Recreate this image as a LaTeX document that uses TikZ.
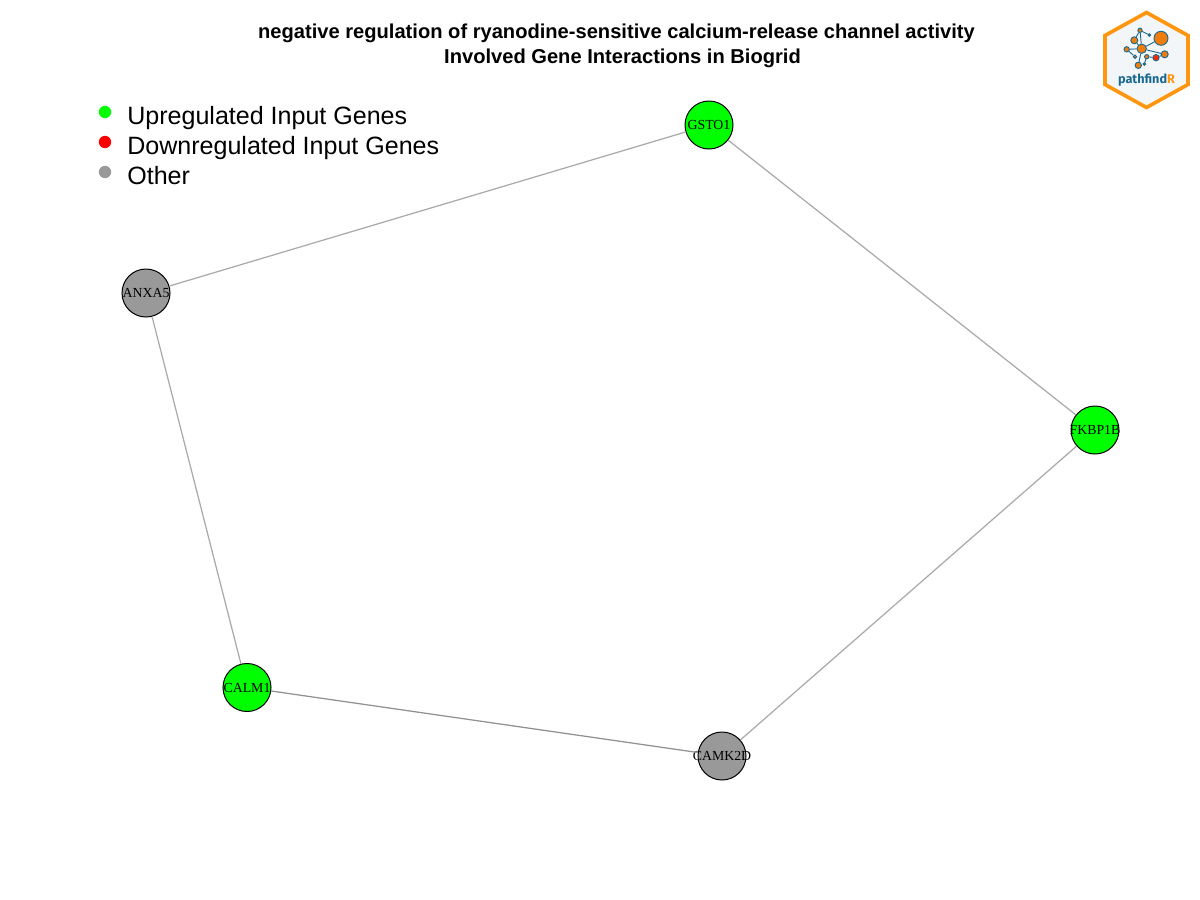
\documentclass[tikz,border=0pt]{standalone}
\usepackage{fontspec}
\setmainfont{Liberation Sans}
\newfontfamily\genefont{Liberation Serif}
\newfontfamily\logofont{Fira Sans}
\usetikzlibrary{positioning}
\definecolor{upgreen}{RGB}{0,255,0}
\definecolor{downred}{RGB}{255,0,0}
\definecolor{othergray}{RGB}{153,153,153}
\definecolor{edgegray}{RGB}{170,170,170}
\definecolor{logoorange}{RGB}{255,150,15}
\definecolor{logodot}{RGB}{240,125,10}
\definecolor{logoblue}{RGB}{25,105,145}
\definecolor{logofill}{RGB}{243,246,249}
\newcommand{\gene}[1]{\makebox[0pt]{#1}}

\begin{document}
\begin{tikzpicture}[
        x=0.6pt,y=-0.6pt,
        vtx/.style={circle,inner sep=0pt,minimum size=28.8pt,draw=black,line width=0.6pt,font=\genefont\fontsize{8.3}{10}\selectfont},
        edge/.style={line width=0.75pt,edgegray},
        keydot/.style={circle,inner sep=0pt,minimum size=7.4pt},
        keytxt/.style={anchor=base west,inner sep=0pt,font=\fontsize{15.03}{18}\selectfont},
        headtxt/.style={inner sep=0pt,font=\bfseries\fontsize{12.07}{14}\selectfont},
        ldot/.style={circle,inner sep=0pt,draw=logoblue,line width=0.55pt,fill=logodot},
        ledge/.style={line width=0.55pt,logoblue}
        ]
        \useasboundingbox (0,0) rectangle (1200,900);

        \node[headtxt] (title1) at (616.5,33.5){negative regulation of ryanodine-sensitive calcium-release channel activity};
        \node[headtxt] (title2) at (622.5,58){Involved Gene Interactions in Biogrid};

        \node[vtx,fill=upgreen] (gsto) at (709,125){\gene{GSTO1}};
        \node[vtx,fill=upgreen] (fkbp) at (1095,430){\gene{FKBP1B}};
        \node[vtx,fill=othergray] (camk) at (722,756){\gene{CAMK2D}};
        \node[vtx,fill=upgreen] (calm) at (247,687.5){\gene{CALM1}};
        \node[vtx,fill=othergray] (anxa) at (146,293){\gene{ANXA5}};

        \draw[edge] (anxa) -- (gsto);
        \draw[edge] (gsto) -- (fkbp);
        \draw[edge] (fkbp) -- (camk);
        \draw[edge,edgegray!85!black] (calm) -- (camk);
        \draw[edge] (anxa) -- (calm);

        \node[keydot,fill=upgreen] (key1) at (105,112){};
        \node[keydot,fill=downred] (key2) at (105,142){};
        \node[keydot,fill=othergray] (key3) at (105,172){};
        \node[keytxt] (lab1) at (127,124){Upregulated Input Genes};
        \node[keytxt] (lab2) at (127,154){Downregulated Input Genes};
        \node[keytxt] (lab3) at (127,184){Other};

        % logo
        \draw[line width=2.2pt,logoorange,fill=logofill,line join=miter]
            (1146.5,12.5) -- (1188,35.5) -- (1188,84.5) -- (1146.5,107.5) -- (1105,84.5) -- (1105,35.5) -- cycle;
        \node[ldot,minimum size=8.4pt] (l1) at (1161,38.3){};
        \node[ldot,minimum size=5.6pt] (l2) at (1141.7,48.7){};
        \node[ldot,minimum size=4.2pt] (l3) at (1134.3,40.3){};
        \node[ldot,minimum size=2.6pt] (l4) at (1140,30.3){};
        \node[ldot,minimum size=1.6pt] (l5) at (1149.3,35){};
        \node[ldot,minimum size=3.2pt] (l6) at (1126.7,49.3){};
        \node[ldot,minimum size=2pt] (l7) at (1135,56.7){};
        \node[ldot,minimum size=3.8pt] (l8) at (1138.3,65.3){};
        \node[ldot,minimum size=2.6pt] (l9) at (1146.7,56.7){};
        \node[ldot,minimum size=1.6pt] (l10) at (1144.3,64){};
        \node[ldot,minimum size=3.8pt,fill=red!70!orange] (l11) at (1156,57.7){};
        \node[ldot,minimum size=4.2pt] (l12) at (1164.7,54.3){};
        \draw[ledge] (l2) -- (l1);
        \draw[ledge] (l2) -- (l3);
        \draw[ledge] (l3) -- (l4);
        \draw[ledge] (l4) -- (l5);
        \draw[ledge] (l4) -- (l2);
        \draw[ledge] (l2) -- (l6);
        \draw[ledge] (l6) -- (l7);
        \draw[ledge] (l2) -- (l8);
        \draw[ledge] (l2) -- (l12);
        \draw[ledge] (l9) -- (l11);
        \draw[ledge] (l9) -- (l10);
        \draw[ledge] (l11) -- (l12);
        \node[inner sep=0pt,font=\logofont\bfseries\fontsize{7.6}{9}\selectfont,text=logoblue] (logotxt) at (1146.5,80.5){pathfind\textcolor{logoorange}{R}};
    \end{tikzpicture}
\end{document}
